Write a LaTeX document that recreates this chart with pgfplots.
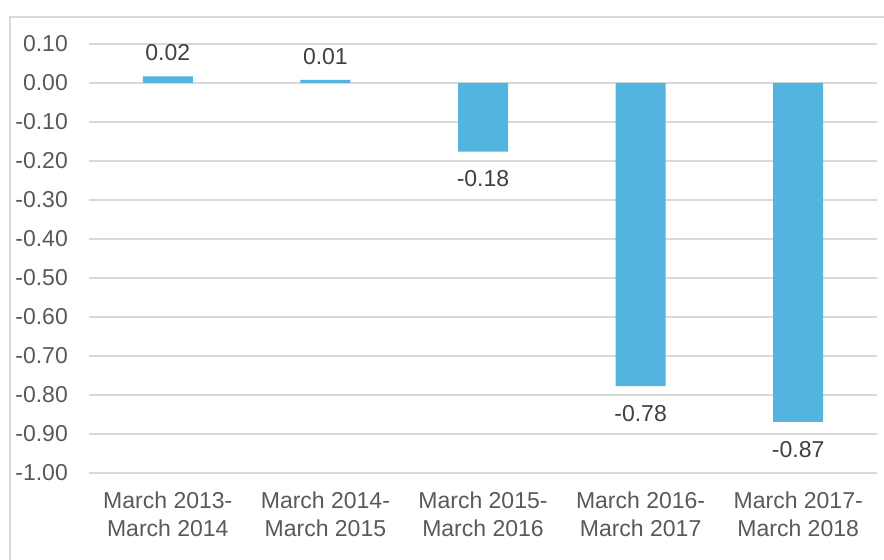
\documentclass[border=0pt]{standalone}
\usepackage{fontspec}
\setmainfont{Liberation Sans}
\usepackage{pgfplots}
\pgfplotsset{compat=1.18}
\definecolor{barblue}{RGB}{83,180,224}
\definecolor{gridgray}{RGB}{217,217,217}
\definecolor{ticktext}{RGB}{89,89,89}
\definecolor{labeltext}{RGB}{64,64,64}
\begin{document}
\begin{tikzpicture}
\path[use as bounding box] (0,0) rectangle (884bp,560bp);
\draw[gridgray, line width=1.2bp] (10bp,0) -- (10bp,543bp) -- (884bp,543bp);
\begin{axis}[
  at={(89bp,87bp)}, anchor=south west,
  scale only axis, width=788bp, height=429bp,
  clip=false,
  xmin=-0.5, xmax=4.5, ymin=-1, ymax=0.1,
  enlargelimits=false,
  axis line style={draw=none},
  major tick length=0pt,
  ymajorgrids, grid style={gridgray, line width=1.2bp},
  ytick={-1,-0.9,-0.8,-0.7,-0.6,-0.5,-0.4,-0.3,-0.2,-0.1,0,0.1},
  yticklabels={-1.00,-0.90,-0.80,-0.70,-0.60,-0.50,-0.40,-0.30,-0.20,-0.10,0.00,0.10},
  yticklabel style={font=\fontsize{23bp}{28bp}\selectfont, text=ticktext, anchor=east, inner sep=0pt, xshift=-21bp},
  xtick={0,1,2,3,4},
  xticklabels={March 2013-\\March 2014, March 2014-\\March 2015, March 2015-\\March 2016, March 2016-\\March 2017, March 2017-\\March 2018},
  xticklabel style={font=\fontsize{23bp}{28bp}\selectfont, text=ticktext, align=center, anchor=north, inner sep=0pt, yshift=-19bp},
  ybar, bar width=50bp, bar shift=0pt,
  nodes near coords,
  point meta=explicit symbolic,
  every node near coord/.append style={font=\fontsize{23bp}{28bp}\selectfont, text=labeltext, inner xsep=0pt},
]
\addplot[fill=barblue, draw=none,
  every node near coord/.append style={anchor=south, inner ysep=15bp}] coordinates {
  (0,0.017) [0.02]
  (1,0.008) [0.01]
};
\addplot[fill=barblue, draw=none,
  every node near coord/.append style={anchor=north, inner ysep=19bp}] coordinates {
  (2,-0.176) [-0.18]
  (3,-0.777) [-0.78]
  (4,-0.869) [-0.87]
};
\end{axis}
\end{tikzpicture}
\end{document}
